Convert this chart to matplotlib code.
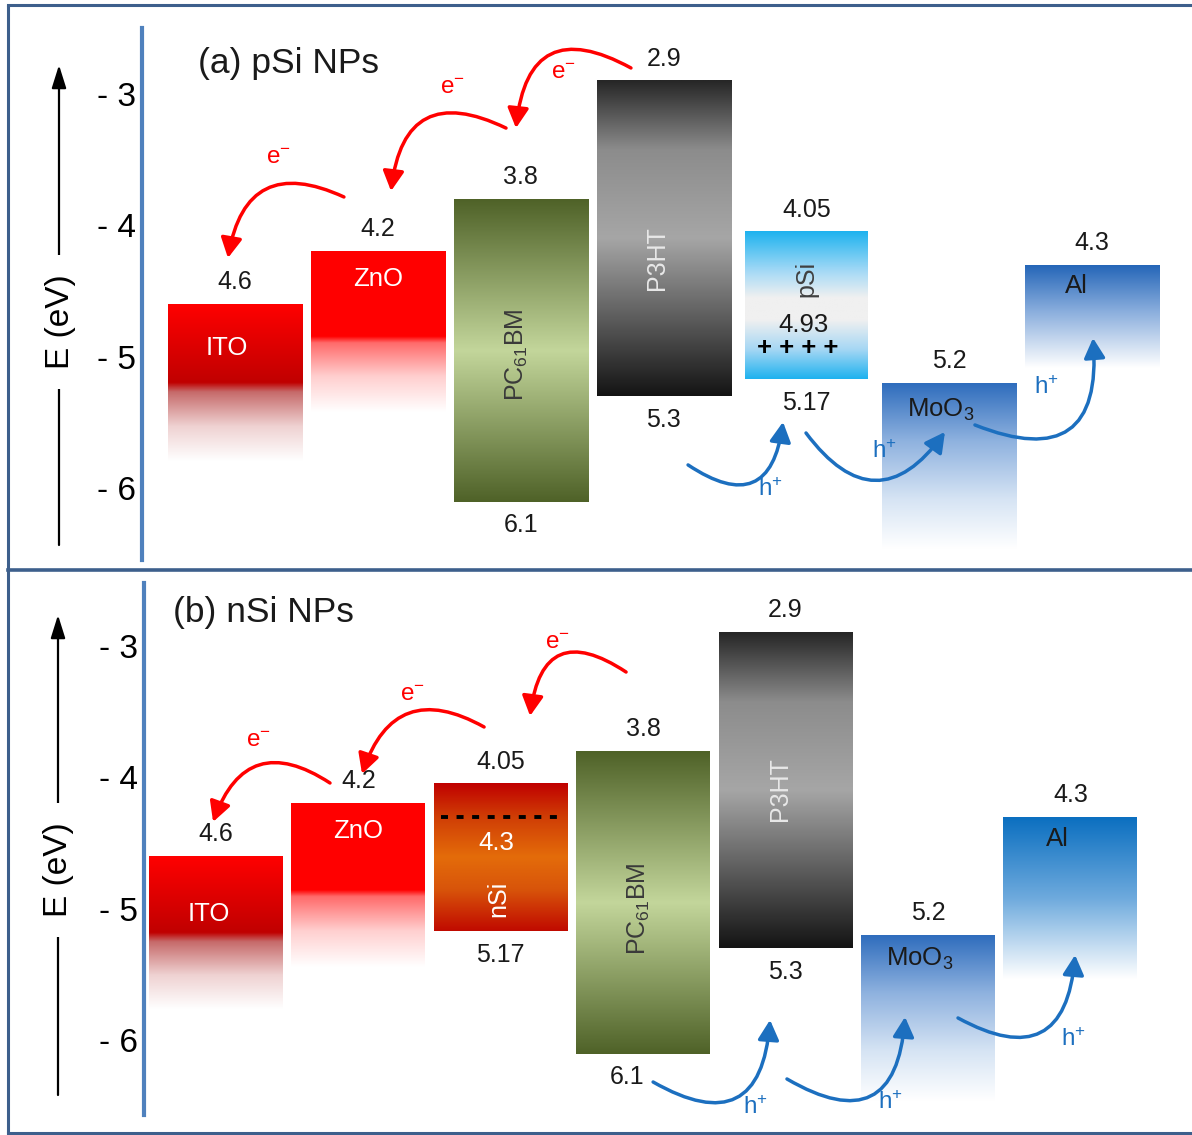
import numpy as np
import matplotlib
matplotlib.use('Agg')
import matplotlib.pyplot as plt
from matplotlib.colors import to_rgb
from matplotlib.patches import FancyArrowPatch

plt.rcParams['font.family'] = ['Liberation Sans', 'DejaVu Sans']
plt.rcParams['mathtext.fontset'] = 'custom'
plt.rcParams['mathtext.rm'] = 'Liberation Sans'
plt.rcParams['mathtext.it'] = 'Liberation Sans:italic'
plt.rcParams['mathtext.bf'] = 'Liberation Sans:bold'

# energy levels (eV below vacuum), left to right in each device stack
names_a = ['ITO', 'ZnO', 'PC$_{61}$BM', 'P3HT', 'pSi', 'MoO$_3$', 'Al']
lumo_a = [4.6, 4.2, 3.8, 2.9, 4.05, 5.2, 4.3]
homo_a = [None, None, 6.1, 5.3, 5.17, None, None]

names_b = ['ITO', 'ZnO', 'nSi', 'PC$_{61}$BM', 'P3HT', 'MoO$_3$', 'Al']
lumo_b = [4.6, 4.2, 4.05, 3.8, 2.9, 5.2, 4.3]
homo_b = [None, None, 5.17, 6.1, 5.3, None, None]

fermi_psi = 4.93
fermi_nsi = 4.3
energy_ticks = [-3, -4, -5, -6]

# colour ramps, top of box -> bottom of box
ramps = {
    'ITO': [(0, '#ff0000'), (0.5, '#c00000'), (0.56, '#c66a6a'), (0.78, '#efd2d2'), (1, '#ffffff')],
    'ZnO': [(0, '#ff0000'), (0.53, '#ff0000'), (0.57, '#ff6a6a'), (0.78, '#ffcfcf'), (1, '#ffffff')],
    'PC$_{61}$BM': [(0, '#4f6228'), (0.5, '#c3d69b'), (1, '#4f6228')],
    'P3HT': [(0, '#262626'), (0.22, '#8c8c8c'), (0.5, '#a6a6a6'), (0.78, '#555555'), (1, '#141414')],
    'pSi': [(0, '#1eb2ef'), (0.28, '#a9dbf6'), (0.45, '#f0f0f0'), (0.6, '#f0f0f0'), (0.8, '#a6d7f4'), (1, '#1eb2ef')],
    'nSi': [(0, '#c00000'), (0.22, '#cf3c05'), (0.5, '#e46c0a'), (0.72, '#d8540a'), (1, '#c00a00')],
    'MoO$_3$': [(0, '#2f6dbd'), (0.35, '#8fb2df'), (0.7, '#d6e4f4'), (1, '#ffffff')],
    'Al_a': [(0, '#2566b8'), (0.45, '#8aaedd'), (1, '#ffffff')],
    'Al_b': [(0, '#0b6fc0'), (0.5, '#6eaadd'), (1, '#ffffff')],
}

# how far the electrode boxes fade out below their work function
fade_a = {'ITO': 1.19, 'ZnO': 1.22, 'MoO$_3$': 1.26, 'Al': 0.78}
fade_b = {'ITO': 1.16, 'ZnO': 1.24, 'MoO$_3$': 1.26, 'Al': 1.23}

# inner labels: offset below the top level, colour, rotation, x shift
inner_a = {
    'ITO': (0.33, 'white', 0, -0.06), 'ZnO': (0.21, 'white', 0, 0),
    'PC$_{61}$BM': (1.18, '#3a3a3a', 90, -0.03), 'P3HT': (1.35, '#e8e8e8', 90, -0.05),
    'pSi': (0.36, '#404040', 90, 0), 'MoO$_3$': (0.2, '#1a1a1a', 0, -0.06),
    'Al': (0.16, '#1a1a1a', 0, -0.11),
}
inner_b = {
    'ITO': (0.44, 'white', 0, -0.05), 'ZnO': (0.21, 'white', 0, 0),
    'nSi': (0.87, 'white', 90, -0.02), 'PC$_{61}$BM': (1.2, '#3a3a3a', 90, -0.03),
    'P3HT': (1.19, '#e8e8e8', 90, -0.04), 'MoO$_3$': (0.18, '#1a1a1a', 0, -0.06),
    'Al': (0.17, '#1a1a1a', 0, -0.09),
}
# sideways nudge of the lower level labels
low_shift_a = {}
low_shift_b = {'PC$_{61}$BM': -0.11}

RED = '#ff0000'
BLUE = '#1c6fbf'

# charge transfer arrows: start, end, bend, label position
e_arrows_a = [((0.761, -3.783), (-0.051, -4.247), 0.65, (0.299, -3.487)),
              ((1.896, -3.259), (1.091, -3.738), 0.7, (1.518, -2.954)),
              ((2.771, -2.802), (1.966, -3.259), 0.75, (2.295, -2.840))]
h_arrows_a = [((3.171, -5.821), (3.836, -5.494), 0.8, (3.745, -6.011)),
              ((3.997, -5.578), (4.970, -5.570), 0.68, (4.543, -5.722)),
              ((5.180, -5.517), (6.007, -4.856), 0.8, (5.678, -5.236))]
e_arrows_b = [((0.801, -4.042), (-0.020, -4.338), 0.63, (0.296, -3.722)),
              ((1.883, -3.616), (1.026, -3.973), 0.6, (1.377, -3.373)),
              ((2.880, -3.198), (2.206, -3.532), 0.8, (2.395, -2.977))]
h_arrows_b = [((3.070, -6.316), (3.891, -5.844), 0.79, (3.786, -6.513)),
              ((4.010, -6.293), (4.839, -5.821), 0.8, (4.734, -6.475)),
              ((5.211, -5.829), (6.033, -5.350), 0.77, (6.019, -5.996))]


def ramp(stops, n=256):
    pos = [s[0] for s in stops]
    rgb = np.array([to_rgb(s[1]) for s in stops])
    t = np.linspace(0, 1, n)
    img = np.stack([np.interp(t, pos, rgb[:, k]) for k in range(3)], axis=-1)
    return img[:, None, :]


def arrow(ax, start, end, rad, color, text, text_pos):
    ax.add_patch(FancyArrowPatch(start, end, connectionstyle=f'arc3,rad={rad}',
                                 arrowstyle='-|>,head_length=0.6,head_width=0.32',
                                 mutation_scale=20, lw=2.5, color=color,
                                 shrinkA=0, shrinkB=0, zorder=5))
    ax.text(*text_pos, text, color=color, fontsize=17.5, ha='center', va='center', zorder=6)


def draw_panel(ax, names, lumo, homo, fades, inner, low_shift, al_key, width=0.94):
    for i, (name, top, bot) in enumerate(zip(names, lumo, homo)):
        w = 0.86 if name == 'pSi' else width
        if bot is None:
            bottom = top + fades[name]
        else:
            bottom = bot
        key = al_key if name == 'Al' else name
        ax.imshow(ramp(ramps[key]), extent=[i - w / 2, i + w / 2, -bottom, -top],
                  aspect='auto', interpolation='bilinear', zorder=2)
        if bot is not None:
            ax.text(i + low_shift.get(name, 0), -bot - 0.18, f'{bot:g}', ha='center',
                    va='center', fontsize=18, color='#1a1a1a')
        ax.text(i, -top + 0.17, f'{top:g}', ha='center', va='center',
                fontsize=18, color='#1a1a1a')
        dy, col, rot, dx = inner[name]
        ax.text(i + dx, -top - dy, name, ha='center', va='center', color=col,
                rotation=rot, fontsize=18 if rot else 18.5, zorder=4)

    ax.set_yticks(energy_ticks)
    ax.set_yticklabels([f'- {abs(t)}' for t in energy_ticks], fontsize=24)
    ax.tick_params(axis='y', length=0, pad=4)
    ax.set_xticks([])
    for s in ['top', 'right', 'bottom']:
        ax.spines[s].set_visible(False)
    ax.spines['left'].set_color('#4f81bd')
    ax.spines['left'].set_linewidth(3)


fig = plt.figure(figsize=(11.92, 11.35), dpi=100)

# figure frame, panel divider and energy arrows in pixel units
frame = fig.add_axes([0, 0, 1, 1], zorder=0)
frame.set_xlim(0, 1192)
frame.set_ylim(1135, 0)
frame.axis('off')
edge = '#3d5f8c'
frame.plot([8, 8], [5, 1133], color=edge, lw=2.2, solid_capstyle='butt')
frame.plot([8, 1192], [5, 5], color=edge, lw=2.2)
frame.plot([8, 1192], [1133, 1133], color=edge, lw=2.2)
frame.plot([8, 1192], [570, 570], color=edge, lw=2.6)
for x, y0, y1, yc in [(59, 545, 65, 322), (58, 1095, 615, 870)]:
    frame.annotate('', xy=(x, y1), xytext=(x, y0),
                   arrowprops=dict(arrowstyle='-|>,head_length=0.7,head_width=0.22',
                                   lw=1.6, color='black', mutation_scale=20,
                                   shrinkA=0, shrinkB=0))
    frame.text(x + 1, yc, 'E (eV)', rotation=90, ha='center', va='center', fontsize=24,
               bbox=dict(fc='white', ec='none', pad=14))

W, H = 1192, 1135

# (a) pSi NPs
ax_a = fig.add_axes([142 / W, 1 - 560 / H, (1188 - 142) / W, (560 - 28) / H], zorder=1)
ax_a.patch.set_visible(False)
draw_panel(ax_a, names_a, lumo_a, homo_a, fade_a, inner_a, low_shift_a, 'Al_a')
i_psi = names_a.index('pSi')
ax_a.text(i_psi - 0.06, -fermi_psi, '+ + + +', ha='center', va='center',
          fontsize=18.5, fontweight='bold', color='black', zorder=4)
ax_a.text(i_psi - 0.02, -fermi_psi + 0.17, f'{fermi_psi:g}', ha='center', va='center',
          fontsize=18.5, color='#1a1a1a', zorder=4)
for s, e, r, p in e_arrows_a:
    arrow(ax_a, s, e, r, RED, r'$\mathregular{e^{-}}$', p)
for s, e, r, p in h_arrows_a:
    arrow(ax_a, s, e, r, BLUE, r'$\mathregular{h^{+}}$', p)
ax_a.text(0.0535, 0.934, '(a) pSi NPs', transform=ax_a.transAxes, fontsize=25.5,
          ha='left', va='center', color='#1a1a1a')
ax_a.set_xlim(-0.653, 6.672)
ax_a.set_ylim(-6.544, -2.498)

# (b) nSi NPs
ax_b = fig.add_axes([144 / W, 1 - 1115 / H, (1188 - 144) / W, (1115 - 583) / H], zorder=1)
ax_b.patch.set_visible(False)
draw_panel(ax_b, names_b, lumo_b, homo_b, fade_b, inner_b, low_shift_b, 'Al_b')
i_nsi = names_b.index('nSi')
ax_b.plot([i_nsi - 0.42, i_nsi + 0.42], [-fermi_nsi, -fermi_nsi], color='black',
          lw=2.8, linestyle=(0, (1.8, 2.2)), zorder=4)
ax_b.text(i_nsi - 0.03, -fermi_nsi - 0.2, f'{fermi_nsi:g}', ha='center', va='center',
          fontsize=18.5, color='white', zorder=4)
for s, e, r, p in e_arrows_b:
    arrow(ax_b, s, e, r, RED, r'$\mathregular{e^{-}}$', p)
for s, e, r, p in h_arrows_b:
    arrow(ax_b, s, e, r, BLUE, r'$\mathregular{h^{+}}$', p)
ax_b.text(0.0278, 0.945, '(b) nSi NPs', transform=ax_b.transAxes, fontsize=25.5,
          ha='left', va='center', color='#1a1a1a')
ax_b.set_xlim(-0.505, 6.826)
ax_b.set_ylim(-6.567, -2.521)

fig.savefig('out.png', dpi=100)
